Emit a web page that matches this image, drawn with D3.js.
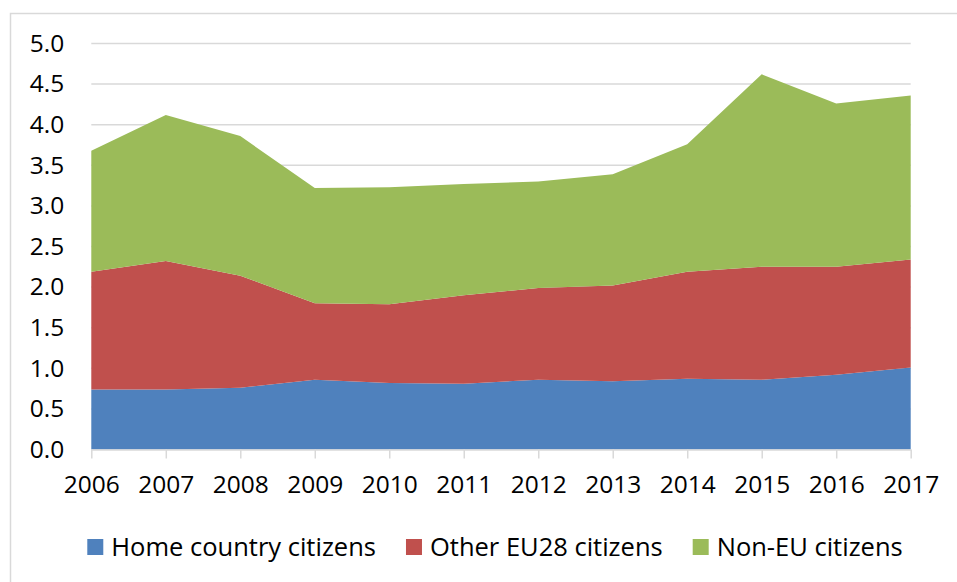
<!doctype html>
<meta charset="utf-8">
<script src="https://d3js.org/d3.v7.min.js"></script>
<style>
  body { margin: 0; background: #fff; }
  text { font-family: "Open Sans", sans-serif; fill: #000; }
</style>
<body>
<svg width="957" height="582"></svg>
<script>
  // data
  var years = [2006, 2007, 2008, 2009, 2010, 2011, 2012, 2013, 2014, 2015, 2016, 2017];
  var home = [0.74, 0.74, 0.76, 0.86, 0.82, 0.81, 0.86, 0.84, 0.87, 0.86, 0.92, 1.01];
  var otherEU = [1.45, 1.58, 1.38, 0.94, 0.97, 1.09, 1.13, 1.18, 1.32, 1.39, 1.33, 1.33];
  var nonEU = [1.49, 1.80, 1.72, 1.42, 1.44, 1.37, 1.31, 1.37, 1.57, 2.37, 2.01, 2.02];
  var seriesNames = ["Home country citizens", "Other EU28 citizens", "Non-EU citizens"];
  var colors = ["#4F81BD", "#C0504D", "#9BBB59"];
  var yTicks = [0, 0.5, 1, 1.5, 2, 2.5, 3, 3.5, 4, 4.5, 5];

  var svg = d3.select("svg");
  var gridColor = "#d9d9d9";

  // outer chart border (right / bottom edges fall outside the picture)
  svg.append("rect")
    .attr("x", 10.5).attr("y", 13.5)
    .attr("width", 980).attr("height", 600)
    .attr("fill", "none")
    .attr("stroke", gridColor)
    .attr("stroke-width", 1.5);

  var x = d3.scaleLinear().domain([2006, 2017]).range([91.3, 910.7]);
  var y = d3.scaleLinear().domain([0, 5]).range([449.5, 43.5]);

  var table = years.map(function (yr, i) {
    return { year: yr, s0: home[i], s1: otherEU[i], s2: nonEU[i] };
  });
  var stack = d3.stack().keys(["s0", "s1", "s2"]);
  var layers = stack(table);

  // horizontal gridlines
  svg.append("g")
    .selectAll("line")
    .data(yTicks.slice(1))
    .enter().append("line")
    .attr("x1", x(2006)).attr("x2", x(2017))
    .attr("y1", function (d) { return y(d); })
    .attr("y2", function (d) { return y(d); })
    .attr("stroke", gridColor)
    .attr("stroke-width", 1.5);

  // stacked areas
  var area = d3.area()
    .x(function (d) { return x(d.data.year); })
    .y0(function (d) { return y(d[0]); })
    .y1(function (d) { return y(d[1]); });

  svg.append("g")
    .selectAll("path")
    .data(layers)
    .enter().append("path")
    .attr("d", area)
    .attr("fill", function (d, i) { return colors[i]; });

  // x axis
  var xAxis = svg.append("g")
    .attr("transform", "translate(0," + y(0) + ")")
    .call(d3.axisBottom(x).tickValues(years).tickFormat(d3.format("d")).tickSizeInner(9).tickSizeOuter(0).tickPadding(17));
  xAxis.select(".domain").attr("stroke", gridColor).attr("stroke-width", 1.5);
  xAxis.selectAll(".tick line").attr("stroke", gridColor).attr("stroke-width", 1.5);
  xAxis.selectAll("text")
    .style("font-family", "'Open Sans', sans-serif")
    .style("font-size", "24.5px")
    .attr("fill", "#000");

  // y axis labels
  var yAxis = svg.append("g")
    .attr("transform", "translate(" + x(2006) + ",0)")
    .call(d3.axisLeft(y).tickValues(yTicks).tickFormat(d3.format(".1f")).tickSize(0).tickPadding(27));
  yAxis.select(".domain").remove();
  yAxis.selectAll("text")
    .style("font-family", "'Open Sans', sans-serif")
    .style("font-size", "24.5px")
    .attr("fill", "#000");

  // legend
  var legend = svg.append("g");
  var items = legend.selectAll("g")
    .data(seriesNames)
    .enter().append("g");
  items.append("rect")
    .attr("width", 16).attr("height", 16)
    .attr("y", 539)
    .attr("fill", function (d, i) { return colors[i]; });
  items.append("text")
    .attr("y", 556)
    .style("font-size", "25.5px")
    .text(function (d) { return d; });

  var pos = 0;
  var offsets = [];
  items.each(function () {
    var w = d3.select(this).select("text").node().getComputedTextLength();
    offsets.push(pos);
    pos += 16 + 8 + w + 30;
  });
  var total = pos - 30;
  var start = 495 - total / 2;
  items.each(function (d, i) {
    var g = d3.select(this);
    g.select("rect").attr("x", start + offsets[i]);
    g.select("text").attr("x", start + offsets[i] + 24);
  });
</script>
</body>
